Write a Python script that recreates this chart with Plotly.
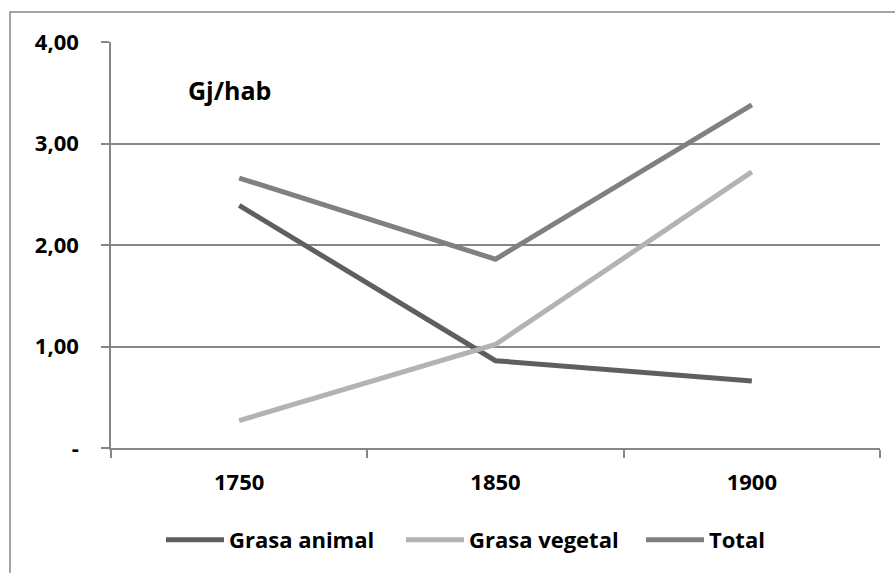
import plotly.graph_objects as go

years = ["1750", "1850", "1900"]
grasa_animal = [2.39, 0.86, 0.66]
grasa_vegetal = [0.27, 1.02, 2.72]
total = [2.66, 1.86, 3.38]
y_ticks = [0, 1, 2, 3, 4]
y_ticktext = ["-", "1,00", "2,00", "3,00", "4,00"]

FONT = "Open Sans"
AX = "#868686"

fig = go.Figure()
for name, vals, col in [("Grasa animal", grasa_animal, "#5f5f5f"),
                        ("Grasa vegetal", grasa_vegetal, "#b3b3b3"),
                        ("Total", total, "#808080")]:
    fig.add_trace(go.Scatter(x=years, y=vals, name=name, mode="lines",
                             line=dict(color=col, width=5)))

fig.update_layout(
    width=895, height=573,
    margin=dict(l=111, r=15, t=42, b=125, autoexpand=False),
    paper_bgcolor="white", plot_bgcolor="white",
    font=dict(family=FONT, size=22, color="black", weight="bold"),
    showlegend=True,
    legend=dict(orientation="h", xref="container", yref="container",
                x=161 / 895, xanchor="left", y=0.0576, yanchor="middle",
                font=dict(family=FONT, size=22, color="black", weight="bold"),
                itemwidth=58, tracegroupgap=0, entrywidth=167),
    xaxis=dict(type="category", range=[-0.5, 2.5], tickson="boundaries",
               ticks="outside", ticklen=8, tickcolor=AX, tickwidth=1.5,
               showline=True, linecolor=AX, linewidth=1.5, showgrid=False,
               automargin=False,
               tickfont=dict(family=FONT, size=22, color="black", weight="bold"),
               ticklabelstandoff=14),
    yaxis=dict(range=[0, 4], tickvals=y_ticks, ticktext=y_ticktext,
               ticks="outside", ticklen=8, tickcolor=AX, tickwidth=1.5,
               showline=True, linecolor=AX, linewidth=1.5, automargin=False,
               showgrid=True, gridcolor=AX, gridwidth=1.5, zeroline=False,
               tickfont=dict(family=FONT, size=22, color="black", weight="bold"),
               ticklabelstandoff=18),
    annotations=[dict(text="Gj/hab", xref="paper", yref="paper", x=0.1547, y=0.882,
                      showarrow=False, xanchor="center", yanchor="middle",
                      font=dict(family=FONT, size=25, color="black", weight="bold"))],
    shapes=[dict(type="rect", xref="paper", yref="paper",
                 x0=(10 - 111) / 769, x1=(900 - 111) / 769,
                 y0=(448 - 580) / 406, y1=(448 - 12) / 406,
                 line=dict(color=AX, width=1.5), layer="below")],
)

fig.write_html("out.html", config={"displayModeBar": False},
               post_script="document.body.style.margin='0';")
